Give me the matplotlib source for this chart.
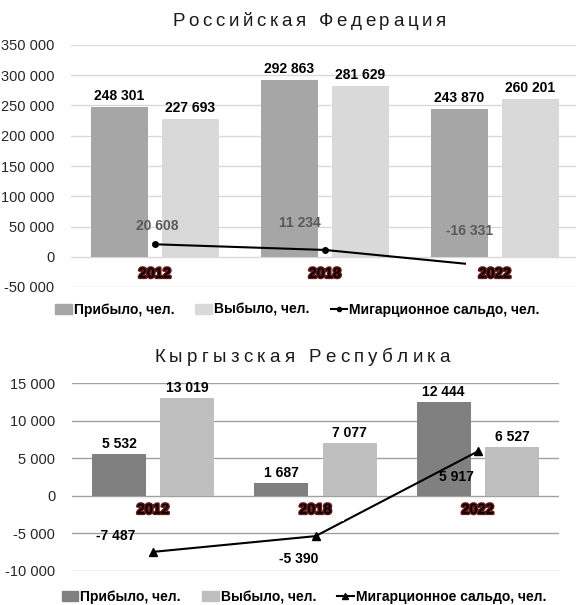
import matplotlib
matplotlib.use("Agg")
import matplotlib.pyplot as plt
import matplotlib.patheffects as pe
from matplotlib.lines import Line2D
from matplotlib.patches import Patch
from matplotlib.ticker import FuncFormatter, MultipleLocator
import numpy as np

plt.rcParams['font.family'] = ['Liberation Sans', 'DejaVu Sans']

# ---- data ----
years = ["2012", "2018", "2022"]
ru_arrived = [248301, 292863, 243870]
ru_departed = [227693, 281629, 260201]
ru_saldo = [20608, 11234, -16331]
kg_arrived = [5532, 1687, 12444]
kg_departed = [13019, 7077, 6527]
kg_saldo = [-7487, -5390, 5917]

ru_title = "Российская Федерация"
kg_title = "Кыргызская Республика"
legend_labels = ["Прибыло, чел.", "Выбыло, чел.", "Мигарционное сальдо, чел."]

W, H = 576, 605
fig = plt.figure(figsize=(W / 100, H / 100), dpi=100)


def fmt(v, pos=None):
    s = f"{abs(int(round(v))):,}".replace(",", " ")
    return ("-" if v < 0 else "") + s


def px_rect(l, t, r, b):
    return [l / W, 1 - b / H, (r - l) / W, (b - t) / H]


def spaced_text(text, cx, cy, size, target_w, color="#1a1a1a"):
    renderer = fig.canvas.get_renderer()
    def width(s):
        t = fig.text(0, 0, s, fontsize=size)
        w = t.get_window_extent(renderer).width
        t.remove()
        return w
    base = width("aa")
    ws = [width("a" + ch + "a") - base for ch in text]
    track = (target_w - sum(ws)) / (len(text) - 1)
    x = cx - target_w / 2
    for ch, w in zip(text, ws):
        fig.text(x / W, 1 - cy / H, ch, fontsize=size, ha="left", va="center", color=color)
        x += w + track


def draw_panel(rect, xlim, ylim, step, arrived, departed, saldo, c_arr, c_dep, grid_c,
               bw, off, bar_lab_off, cat_off, saldo_offsets, saldo_color, marker, msize,
               tick_color):
    ax = fig.add_axes(rect)
    x = np.arange(len(years))
    ax.bar(x - off, arrived, bw, color=c_arr, zorder=2)
    ax.bar(x + off, departed, bw, color=c_dep, zorder=2)
    ax.plot(x, saldo, color="black", lw=1.5, marker=marker, ms=msize, zorder=3)
    ax.set_xlim(*xlim)
    ax.set_ylim(*ylim)
    ax.yaxis.set_major_locator(MultipleLocator(step))
    ax.yaxis.set_major_formatter(FuncFormatter(fmt))
    ax.grid(axis="y", color=grid_c, lw=1, zorder=0)
    ax.set_axisbelow(True)
    for s in ax.spines.values():
        s.set_visible(False)
    ax.tick_params(axis="y", length=0, pad=12, labelsize=10.5, labelcolor=tick_color)
    ax.set_xticks([])
    for xi, v in zip(x - off, arrived):
        ax.annotate(fmt(v), (xi, v), xytext=(0, bar_lab_off), textcoords="offset pixels",
                    ha="center", va="center", fontsize=10, fontweight="bold", color="black")
    for xi, v in zip(x + off, departed):
        ax.annotate(fmt(v), (xi, v), xytext=(0, bar_lab_off), textcoords="offset pixels",
                    ha="center", va="center", fontsize=10, fontweight="bold", color="black")
    for xi, v, (dx, dy) in zip(x, saldo, saldo_offsets):
        ax.annotate(fmt(v), (xi, v), xytext=(dx, dy), textcoords="offset pixels",
                    ha="center", va="center", fontsize=10, fontweight="bold", color=saldo_color,
                    zorder=5)
    for xi, lab in zip(x, years):
        ax.annotate("  " + lab + "  ", (xi, 0), xytext=(0, cat_off), textcoords="offset pixels",
                    ha="center", va="center", fontsize=10.5, fontweight="bold", color="black",
                    bbox=dict(boxstyle="square,pad=0.3", fc="white", ec="none"),
                    path_effects=[pe.withStroke(linewidth=2, foreground="#6b1a1a")],
                    zorder=6, annotation_clip=False)
    return ax


# ---- top panel: Russia ----
draw_panel(px_rect(71, 45, 576, 287), (-84 / 170, 421 / 170), (-50000, 350000), 50000,
           ru_arrived, ru_departed, ru_saldo, "#a6a6a6", "#d9d9d9", "#d9d9d9",
           0.335, 0.209, 11, -17, [(2, 18), (-25, 27), (-25, 36)], "#595959", "o", 4,
           "#262626")
spaced_text(ru_title, 309, 21, 13.5, 274)

h_top = [Patch(color="#a6a6a6"), Patch(color="#d9d9d9"),
         Line2D([], [], color="black", lw=1.5, marker="o", ms=3)]
fig.legend(h_top, legend_labels, loc="center", bbox_to_anchor=(297.5 / W, 1 - 310 / H),
           ncol=3, frameon=False, prop=dict(weight="bold", size=10), handlelength=1.2,
           handletextpad=0.15, columnspacing=1.5, borderaxespad=0, borderpad=0)

# ---- bottom panel: Kyrgyzstan ----
draw_panel(px_rect(72, 383.3, 559, 570.7), (-0.5, 2.5), (-10000, 15000), 5000,
           kg_arrived, kg_departed, kg_saldo, "#808080", "#bfbfbf", "#a0a0a0",
           0.333, 0.211, 10, -14, [(-37, 16), (-17, -23), (-21, -26)], "black", "^", 6,
           "#262626")
spaced_text(kg_title, 302, 358, 13.5, 296)

h_bot = [Patch(color="#808080"), Patch(color="#bfbfbf"),
         Line2D([], [], color="black", lw=1.5, marker="^", ms=5)]
fig.legend(h_bot, legend_labels, loc="center", bbox_to_anchor=(304 / W, 1 - 597 / H),
           ncol=3, frameon=False, prop=dict(weight="bold", size=10), handlelength=1.2,
           handletextpad=0.15, columnspacing=1.5, borderaxespad=0, borderpad=0)

fig.savefig("out.png", dpi=100)
